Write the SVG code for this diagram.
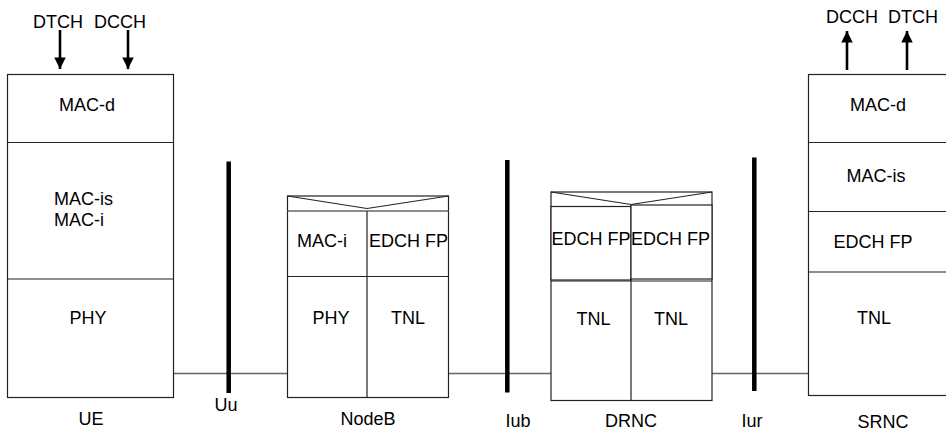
<svg xmlns="http://www.w3.org/2000/svg" width="946" height="432" viewBox="0 0 946 432">
<defs>
<style>
text{font-family:"Liberation Sans",Arial,sans-serif;font-size:18px;fill:#000}
.c{text-anchor:middle}
.box{fill:#fff;stroke:#222;stroke-width:1.2}
.ln{stroke:#222;stroke-width:1.2;fill:none}
.gl{stroke:#666;stroke-width:1.5;fill:none}
.bar{stroke:#000;stroke-width:4.5}
.arr{stroke:#000;stroke-width:2.6}
</style>
<marker id="ah" viewBox="0 0 10 10" refX="10" refY="5" markerWidth="4.6" markerHeight="4.4" markerUnits="strokeWidth" orient="auto">
<path d="M0,0 L10,5 L0,10 z" fill="#000"/>
</marker>
</defs>
<rect width="946" height="432" fill="#fff"/>
<g id="connectors">
<line class="gl" x1="167" y1="373.5" x2="287" y2="373.5"/>
<line class="gl" x1="449" y1="373.5" x2="551" y2="373.5"/>
<line class="gl" x1="712" y1="373.5" x2="809" y2="373.5"/>
<line class="arr" x1="60" y1="30" x2="60" y2="69" marker-end="url(#ah)"/>
<line class="arr" x1="128" y1="30" x2="128" y2="69" marker-end="url(#ah)"/>
<line class="arr" x1="847" y1="70" x2="847" y2="31" marker-end="url(#ah)"/>
<line class="arr" x1="907" y1="70" x2="907" y2="31" marker-end="url(#ah)"/>
</g>
<g id="UE">
<rect class="box" x="7.5" y="74.5" width="166" height="323"/>
<line class="ln" x1="7.5" y1="142.5" x2="173.5" y2="142.5"/>
<line class="ln" x1="7.5" y1="279" x2="173.5" y2="279"/>
<text class="c" x="58" y="28">DTCH</text>
<text class="c" x="120" y="28">DCCH</text>
<text class="c" x="87" y="111">MAC-d</text>
<text x="54" y="205">MAC-is</text>
<text x="54" y="225.5">MAC-i</text>
<text class="c" x="88" y="324">PHY</text>
<text class="c" x="91" y="425">UE</text>
</g>
<g id="Uu">
<line class="bar" x1="228.7" y1="161.5" x2="228.7" y2="393"/>
<text class="c" x="226" y="411">Uu</text>
</g>
<g id="NodeB">
<rect class="box" x="287.5" y="196" width="161" height="201.5"/>
<polyline class="ln" points="287.5,196 367,208.5 448.5,196"/>
<line class="gl" x1="287.5" y1="211" x2="448.5" y2="211"/>
<line class="ln" x1="367" y1="211" x2="367" y2="397.5"/>
<line class="ln" x1="287.5" y1="276.5" x2="448.5" y2="276.5"/>
<text class="c" x="322" y="246.5">MAC-i</text>
<text x="369" y="246.5">EDCH FP</text>
<text class="c" x="331" y="323.5">PHY</text>
<text class="c" x="408" y="323.5">TNL</text>
<text class="c" x="368" y="425">NodeB</text>
</g>
<g id="Iub">
<line class="bar" x1="507.3" y1="160" x2="507.3" y2="392.5"/>
<text class="c" x="518" y="427">Iub</text>
</g>
<g id="DRNC">
<rect class="box" x="551" y="192" width="161" height="208.5"/>
<polyline class="ln" points="551,192 631,204.5 712,192"/>
<rect class="box" x="551" y="206.5" width="80" height="73.5"/>
<rect class="box" x="631" y="205" width="81" height="74"/>
<line class="ln" x1="551" y1="281" x2="712" y2="281"/>
<line class="ln" x1="631" y1="279" x2="631" y2="400.5"/>
<text x="551.5" y="245">EDCH FP</text>
<text x="631" y="245">EDCH FP</text>
<text class="c" x="593.5" y="325">TNL</text>
<text class="c" x="671" y="325">TNL</text>
<text class="c" x="631" y="427">DRNC</text>
</g>
<g id="Iur">
<line class="bar" x1="754.3" y1="157.5" x2="754.3" y2="391"/>
<text class="c" x="752" y="427">Iur</text>
</g>
<g id="SRNC">
<rect class="box" x="808.5" y="74.5" width="140" height="321"/>
<line class="ln" x1="808.5" y1="142.5" x2="948" y2="142.5"/>
<line class="ln" x1="808.5" y1="211.5" x2="948" y2="211.5"/>
<line class="ln" x1="808.5" y1="272" x2="948" y2="272"/>
<text class="c" x="852" y="23">DCCH</text>
<text class="c" x="913" y="23">DTCH</text>
<text class="c" x="878" y="111">MAC-d</text>
<text class="c" x="876" y="181.5">MAC-is</text>
<text class="c" x="873" y="248">EDCH FP</text>
<text class="c" x="874" y="324">TNL</text>
<text class="c" x="883" y="428">SRNC</text>
</g>
</svg>
